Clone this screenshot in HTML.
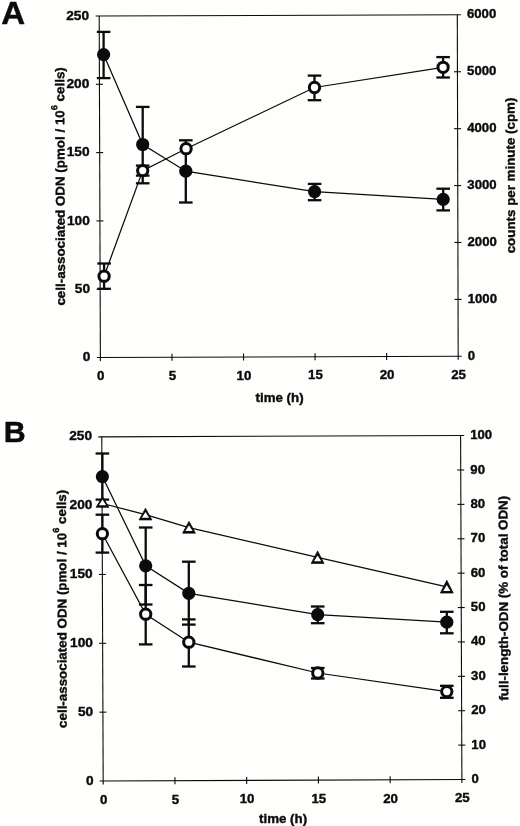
<!DOCTYPE html>
<html lang="en"><head><meta charset="utf-8"><title>Figure</title>
<style>html,body{margin:0;padding:0;background:#fefefc}svg{display:block;will-change:transform}text{font-family:"Liberation Sans",Arial,sans-serif;font-weight:bold;fill:#0b0b0b;stroke:#0b0b0b;stroke-width:0.4px;stroke-linejoin:round}</style>
</head><body>
<svg width="520" height="826" viewBox="0 0 520 826" font-size="13.3">
<rect width="520" height="826" fill="#fefefc"/>
<g id="panelA">
<line x1="95.70" y1="16.04" x2="460.80" y2="14.81" stroke="#0b0b0b" stroke-width="1.1" />
<line x1="96.90" y1="357.50" x2="461.70" y2="356.30" stroke="#0b0b0b" stroke-width="1.1" />
<line x1="99.20" y1="16.00" x2="100.40" y2="361.00" stroke="#0b0b0b" stroke-width="1.1" />
<line x1="457.30" y1="14.85" x2="458.20" y2="359.80" stroke="#0b0b0b" stroke-width="1.1" />
<text x="90.30" y="361.30" text-anchor="end" font-size="13.7">0</text>
<line x1="96.66" y1="289.20" x2="103.66" y2="289.20" stroke="#0b0b0b" stroke-width="1.1" />
<text x="90.06" y="293.00" text-anchor="end" font-size="13.7">50</text>
<line x1="96.42" y1="220.90" x2="103.42" y2="220.90" stroke="#0b0b0b" stroke-width="1.1" />
<text x="89.82" y="224.70" text-anchor="end" font-size="13.7">100</text>
<line x1="96.18" y1="152.60" x2="103.18" y2="152.60" stroke="#0b0b0b" stroke-width="1.1" />
<text x="89.58" y="156.40" text-anchor="end" font-size="13.7">150</text>
<line x1="95.94" y1="84.30" x2="102.94" y2="84.30" stroke="#0b0b0b" stroke-width="1.1" />
<text x="89.34" y="88.10" text-anchor="end" font-size="13.7">200</text>
<text x="89.10" y="19.80" text-anchor="end" font-size="13.7">250</text>
<text transform="translate(467.80,359.55) scale(0.962,1)" font-size="13.7">0</text>
<line x1="454.55" y1="299.39" x2="461.55" y2="299.39" stroke="#0b0b0b" stroke-width="1.1" />
<text transform="translate(467.65,302.64) scale(0.962,1)" font-size="13.7">1000</text>
<line x1="454.40" y1="242.48" x2="461.40" y2="242.48" stroke="#0b0b0b" stroke-width="1.1" />
<text transform="translate(467.50,245.73) scale(0.962,1)" font-size="13.7">2000</text>
<line x1="454.25" y1="185.58" x2="461.25" y2="185.58" stroke="#0b0b0b" stroke-width="1.1" />
<text transform="translate(467.35,188.83) scale(0.962,1)" font-size="13.7">3000</text>
<line x1="454.10" y1="128.67" x2="461.10" y2="128.67" stroke="#0b0b0b" stroke-width="1.1" />
<text transform="translate(467.20,131.92) scale(0.962,1)" font-size="13.7">4000</text>
<line x1="453.95" y1="71.76" x2="460.95" y2="71.76" stroke="#0b0b0b" stroke-width="1.1" />
<text transform="translate(467.05,75.01) scale(0.962,1)" font-size="13.7">5000</text>
<text transform="translate(466.90,18.10) scale(0.962,1)" font-size="13.7">6000</text>
<text x="100.80" y="380.00" text-anchor="middle">0</text>
<line x1="171.96" y1="353.76" x2="171.96" y2="360.76" stroke="#0b0b0b" stroke-width="1.1" />
<text x="172.36" y="379.76" text-anchor="middle">5</text>
<line x1="243.52" y1="353.52" x2="243.52" y2="360.52" stroke="#0b0b0b" stroke-width="1.1" />
<text x="243.92" y="379.52" text-anchor="middle">10</text>
<line x1="315.08" y1="353.28" x2="315.08" y2="360.28" stroke="#0b0b0b" stroke-width="1.1" />
<text x="315.48" y="379.28" text-anchor="middle">15</text>
<line x1="386.64" y1="353.04" x2="386.64" y2="360.04" stroke="#0b0b0b" stroke-width="1.1" />
<text x="387.04" y="379.04" text-anchor="middle">20</text>
<text x="458.60" y="378.80" text-anchor="middle">25</text>
<text transform="translate(1.3,23.9) scale(1.035,1)" font-size="32" stroke-width="0.9">A</text>
<text transform="translate(65.0,305.6) rotate(-90.2) scale(1,0.96)" textLength="238.4" lengthAdjust="spacingAndGlyphs">cell-associated ODN (pmol / 10<tspan font-size="9.2" dy="-7.4">6</tspan><tspan dy="7.4"> cells)</tspan></text>
<text transform="translate(515.1,253.3) rotate(-90.2) scale(1,0.96)" textLength="155.7" lengthAdjust="spacingAndGlyphs">counts per minute (cpm)</text>
<text x="279.6" y="402.3" text-anchor="middle">time (h)</text>
<polyline points="103.60,54.60 142.70,144.50 185.80,171.20 314.60,191.70 443.20,199.40" fill="none" stroke="#0b0b0b" stroke-width="1.25"/>
<line x1="103.60" y1="31.90" x2="103.60" y2="78.10" stroke="#0b0b0b" stroke-width="2.3" />
<line x1="96.80" y1="31.90" x2="110.40" y2="31.90" stroke="#0b0b0b" stroke-width="2.3" />
<line x1="96.80" y1="78.10" x2="110.40" y2="78.10" stroke="#0b0b0b" stroke-width="2.3" />
<line x1="142.70" y1="106.90" x2="142.70" y2="183.30" stroke="#0b0b0b" stroke-width="2.3" />
<line x1="135.90" y1="106.90" x2="149.50" y2="106.90" stroke="#0b0b0b" stroke-width="2.3" />
<line x1="135.90" y1="183.30" x2="149.50" y2="183.30" stroke="#0b0b0b" stroke-width="2.3" />
<line x1="185.80" y1="140.30" x2="185.80" y2="202.50" stroke="#0b0b0b" stroke-width="2.3" />
<line x1="179.00" y1="140.30" x2="192.60" y2="140.30" stroke="#0b0b0b" stroke-width="2.3" />
<line x1="179.00" y1="202.50" x2="192.60" y2="202.50" stroke="#0b0b0b" stroke-width="2.3" />
<line x1="314.60" y1="183.90" x2="314.60" y2="200.20" stroke="#0b0b0b" stroke-width="2.3" />
<line x1="307.80" y1="183.90" x2="321.40" y2="183.90" stroke="#0b0b0b" stroke-width="2.3" />
<line x1="307.80" y1="200.20" x2="321.40" y2="200.20" stroke="#0b0b0b" stroke-width="2.3" />
<line x1="443.20" y1="188.70" x2="443.20" y2="210.40" stroke="#0b0b0b" stroke-width="2.3" />
<line x1="436.40" y1="188.70" x2="450.00" y2="188.70" stroke="#0b0b0b" stroke-width="2.3" />
<line x1="436.40" y1="210.40" x2="450.00" y2="210.40" stroke="#0b0b0b" stroke-width="2.3" />
<circle cx="103.60" cy="54.60" r="6.6" fill="#0b0b0b"/>
<circle cx="142.70" cy="144.50" r="6.6" fill="#0b0b0b"/>
<circle cx="185.80" cy="171.20" r="6.6" fill="#0b0b0b"/>
<circle cx="314.60" cy="191.70" r="6.6" fill="#0b0b0b"/>
<circle cx="443.20" cy="199.40" r="6.6" fill="#0b0b0b"/>
<polyline points="104.10,276.20 142.70,170.60 186.10,148.70 314.50,87.50 443.10,67.30" fill="none" stroke="#0b0b0b" stroke-width="1.25"/>
<line x1="104.10" y1="263.50" x2="104.10" y2="288.80" stroke="#0b0b0b" stroke-width="2.3" />
<line x1="97.30" y1="263.50" x2="110.90" y2="263.50" stroke="#0b0b0b" stroke-width="2.3" />
<line x1="97.30" y1="288.80" x2="110.90" y2="288.80" stroke="#0b0b0b" stroke-width="2.3" />
<line x1="142.70" y1="165.60" x2="142.70" y2="175.60" stroke="#0b0b0b" stroke-width="2.3" />
<line x1="135.90" y1="165.60" x2="149.50" y2="165.60" stroke="#0b0b0b" stroke-width="2.3" />
<line x1="135.90" y1="175.60" x2="149.50" y2="175.60" stroke="#0b0b0b" stroke-width="2.3" />
<line x1="314.50" y1="75.60" x2="314.50" y2="100.20" stroke="#0b0b0b" stroke-width="2.3" />
<line x1="307.70" y1="75.60" x2="321.30" y2="75.60" stroke="#0b0b0b" stroke-width="2.3" />
<line x1="307.70" y1="100.20" x2="321.30" y2="100.20" stroke="#0b0b0b" stroke-width="2.3" />
<line x1="443.10" y1="57.10" x2="443.10" y2="77.50" stroke="#0b0b0b" stroke-width="2.3" />
<line x1="436.30" y1="57.10" x2="449.90" y2="57.10" stroke="#0b0b0b" stroke-width="2.3" />
<line x1="436.30" y1="77.50" x2="449.90" y2="77.50" stroke="#0b0b0b" stroke-width="2.3" />
<circle cx="104.10" cy="276.20" r="5.15" fill="#fff" stroke="#0b0b0b" stroke-width="3.0"/>
<circle cx="142.70" cy="170.60" r="5.15" fill="#fff" stroke="#0b0b0b" stroke-width="3.0"/>
<circle cx="186.10" cy="148.70" r="5.15" fill="#fff" stroke="#0b0b0b" stroke-width="3.0"/>
<circle cx="314.50" cy="87.50" r="5.15" fill="#fff" stroke="#0b0b0b" stroke-width="3.0"/>
<circle cx="443.10" cy="67.30" r="5.15" fill="#fff" stroke="#0b0b0b" stroke-width="3.0"/>
</g>
<g id="panelB">
<line x1="98.30" y1="436.84" x2="464.10" y2="435.56" stroke="#0b0b0b" stroke-width="1.1" />
<line x1="99.70" y1="781.00" x2="465.40" y2="779.50" stroke="#0b0b0b" stroke-width="1.1" />
<line x1="101.80" y1="436.80" x2="103.20" y2="784.50" stroke="#0b0b0b" stroke-width="1.1" />
<line x1="460.60" y1="435.60" x2="461.90" y2="783.00" stroke="#0b0b0b" stroke-width="1.1" />
<text x="93.50" y="784.60" text-anchor="end" font-size="13.7">0</text>
<line x1="99.42" y1="712.16" x2="106.42" y2="712.16" stroke="#0b0b0b" stroke-width="1.1" />
<text x="93.22" y="715.76" text-anchor="end" font-size="13.7">50</text>
<line x1="99.14" y1="643.32" x2="106.14" y2="643.32" stroke="#0b0b0b" stroke-width="1.1" />
<text x="92.94" y="646.92" text-anchor="end" font-size="13.7">100</text>
<line x1="98.86" y1="574.48" x2="105.86" y2="574.48" stroke="#0b0b0b" stroke-width="1.1" />
<text x="92.66" y="578.08" text-anchor="end" font-size="13.7">150</text>
<line x1="98.58" y1="505.64" x2="105.58" y2="505.64" stroke="#0b0b0b" stroke-width="1.1" />
<text x="92.38" y="509.24" text-anchor="end" font-size="13.7">200</text>
<text x="92.10" y="440.40" text-anchor="end" font-size="13.7">250</text>
<text transform="translate(471.50,783.05) scale(0.962,1)" font-size="13.7">0</text>
<line x1="458.27" y1="745.11" x2="465.27" y2="745.11" stroke="#0b0b0b" stroke-width="1.1" />
<text transform="translate(471.37,748.66) scale(0.962,1)" font-size="13.7">10</text>
<line x1="458.14" y1="710.72" x2="465.14" y2="710.72" stroke="#0b0b0b" stroke-width="1.1" />
<text transform="translate(471.24,714.27) scale(0.962,1)" font-size="13.7">20</text>
<line x1="458.01" y1="676.33" x2="465.01" y2="676.33" stroke="#0b0b0b" stroke-width="1.1" />
<text transform="translate(471.11,679.88) scale(0.962,1)" font-size="13.7">30</text>
<line x1="457.88" y1="641.94" x2="464.88" y2="641.94" stroke="#0b0b0b" stroke-width="1.1" />
<text transform="translate(470.98,645.49) scale(0.962,1)" font-size="13.7">40</text>
<line x1="457.75" y1="607.55" x2="464.75" y2="607.55" stroke="#0b0b0b" stroke-width="1.1" />
<text transform="translate(470.85,611.10) scale(0.962,1)" font-size="13.7">50</text>
<line x1="457.62" y1="573.16" x2="464.62" y2="573.16" stroke="#0b0b0b" stroke-width="1.1" />
<text transform="translate(470.72,576.71) scale(0.962,1)" font-size="13.7">60</text>
<line x1="457.49" y1="538.77" x2="464.49" y2="538.77" stroke="#0b0b0b" stroke-width="1.1" />
<text transform="translate(470.59,542.32) scale(0.962,1)" font-size="13.7">70</text>
<line x1="457.36" y1="504.38" x2="464.36" y2="504.38" stroke="#0b0b0b" stroke-width="1.1" />
<text transform="translate(470.46,507.93) scale(0.962,1)" font-size="13.7">80</text>
<line x1="457.23" y1="469.99" x2="464.23" y2="469.99" stroke="#0b0b0b" stroke-width="1.1" />
<text transform="translate(470.33,473.54) scale(0.962,1)" font-size="13.7">90</text>
<text transform="translate(470.20,439.15) scale(0.962,1)" font-size="13.7">100</text>
<text x="103.60" y="803.90" text-anchor="middle">0</text>
<line x1="174.94" y1="777.20" x2="174.94" y2="784.20" stroke="#0b0b0b" stroke-width="1.1" />
<text x="175.34" y="803.60" text-anchor="middle">5</text>
<line x1="246.68" y1="776.90" x2="246.68" y2="783.90" stroke="#0b0b0b" stroke-width="1.1" />
<text x="247.08" y="803.30" text-anchor="middle">10</text>
<line x1="318.42" y1="776.60" x2="318.42" y2="783.60" stroke="#0b0b0b" stroke-width="1.1" />
<text x="318.82" y="803.00" text-anchor="middle">15</text>
<line x1="390.16" y1="776.30" x2="390.16" y2="783.30" stroke="#0b0b0b" stroke-width="1.1" />
<text x="390.56" y="802.70" text-anchor="middle">20</text>
<text x="462.30" y="802.40" text-anchor="middle">25</text>
<text x="3.7" y="442.1" font-size="30.4" stroke-width="0.9">B</text>
<text transform="translate(66.8,727.9) rotate(-90.2) scale(1,0.96)" textLength="238.1" lengthAdjust="spacingAndGlyphs">cell-associated ODN (pmol / 10<tspan font-size="9.2" dy="-7.4">6</tspan><tspan dy="7.4"> cells)</tspan></text>
<text transform="translate(508.2,700.6) rotate(-90.2) scale(1,0.96)" textLength="204.8" lengthAdjust="spacingAndGlyphs">full-length-ODN (% of total ODN)</text>
<text x="283.1" y="822.7" text-anchor="middle">time (h)</text>
<polyline points="102.40,476.60 145.70,565.80 188.80,593.30 317.70,614.70 446.80,622.20" fill="none" stroke="#0b0b0b" stroke-width="1.25"/>
<line x1="102.40" y1="453.50" x2="102.40" y2="499.60" stroke="#0b0b0b" stroke-width="2.3" />
<line x1="95.60" y1="453.50" x2="109.20" y2="453.50" stroke="#0b0b0b" stroke-width="2.3" />
<line x1="95.60" y1="499.60" x2="109.20" y2="499.60" stroke="#0b0b0b" stroke-width="2.3" />
<line x1="145.70" y1="527.50" x2="145.70" y2="604.50" stroke="#0b0b0b" stroke-width="2.3" />
<line x1="138.90" y1="527.50" x2="152.50" y2="527.50" stroke="#0b0b0b" stroke-width="2.3" />
<line x1="138.90" y1="604.50" x2="152.50" y2="604.50" stroke="#0b0b0b" stroke-width="2.3" />
<line x1="188.80" y1="561.70" x2="188.80" y2="624.60" stroke="#0b0b0b" stroke-width="2.3" />
<line x1="182.00" y1="561.70" x2="195.60" y2="561.70" stroke="#0b0b0b" stroke-width="2.3" />
<line x1="182.00" y1="624.60" x2="195.60" y2="624.60" stroke="#0b0b0b" stroke-width="2.3" />
<line x1="317.70" y1="606.50" x2="317.70" y2="623.20" stroke="#0b0b0b" stroke-width="2.3" />
<line x1="310.90" y1="606.50" x2="324.50" y2="606.50" stroke="#0b0b0b" stroke-width="2.3" />
<line x1="310.90" y1="623.20" x2="324.50" y2="623.20" stroke="#0b0b0b" stroke-width="2.3" />
<line x1="446.80" y1="611.80" x2="446.80" y2="633.30" stroke="#0b0b0b" stroke-width="2.3" />
<line x1="440.00" y1="611.80" x2="453.60" y2="611.80" stroke="#0b0b0b" stroke-width="2.3" />
<line x1="440.00" y1="633.30" x2="453.60" y2="633.30" stroke="#0b0b0b" stroke-width="2.3" />
<circle cx="102.40" cy="476.60" r="6.6" fill="#0b0b0b"/>
<circle cx="145.70" cy="565.80" r="6.6" fill="#0b0b0b"/>
<circle cx="188.80" cy="593.30" r="6.6" fill="#0b0b0b"/>
<circle cx="317.70" cy="614.70" r="6.6" fill="#0b0b0b"/>
<circle cx="446.80" cy="622.20" r="6.6" fill="#0b0b0b"/>
<polyline points="102.40,533.70 145.70,614.20 188.80,642.20 317.80,673.00 446.80,691.60" fill="none" stroke="#0b0b0b" stroke-width="1.25"/>
<line x1="102.40" y1="514.70" x2="102.40" y2="552.60" stroke="#0b0b0b" stroke-width="2.3" />
<line x1="95.60" y1="514.70" x2="109.20" y2="514.70" stroke="#0b0b0b" stroke-width="2.3" />
<line x1="95.60" y1="552.60" x2="109.20" y2="552.60" stroke="#0b0b0b" stroke-width="2.3" />
<line x1="145.70" y1="585.00" x2="145.70" y2="644.40" stroke="#0b0b0b" stroke-width="2.3" />
<line x1="138.90" y1="585.00" x2="152.50" y2="585.00" stroke="#0b0b0b" stroke-width="2.3" />
<line x1="138.90" y1="644.40" x2="152.50" y2="644.40" stroke="#0b0b0b" stroke-width="2.3" />
<line x1="188.80" y1="619.40" x2="188.80" y2="666.50" stroke="#0b0b0b" stroke-width="2.3" />
<line x1="182.00" y1="619.40" x2="195.60" y2="619.40" stroke="#0b0b0b" stroke-width="2.3" />
<line x1="182.00" y1="666.50" x2="195.60" y2="666.50" stroke="#0b0b0b" stroke-width="2.3" />
<line x1="317.80" y1="668.00" x2="317.80" y2="678.50" stroke="#0b0b0b" stroke-width="2.3" />
<line x1="311.00" y1="668.00" x2="324.60" y2="668.00" stroke="#0b0b0b" stroke-width="2.3" />
<line x1="311.00" y1="678.50" x2="324.60" y2="678.50" stroke="#0b0b0b" stroke-width="2.3" />
<line x1="446.80" y1="685.80" x2="446.80" y2="697.80" stroke="#0b0b0b" stroke-width="2.3" />
<line x1="440.00" y1="685.80" x2="453.60" y2="685.80" stroke="#0b0b0b" stroke-width="2.3" />
<line x1="440.00" y1="697.80" x2="453.60" y2="697.80" stroke="#0b0b0b" stroke-width="2.3" />
<circle cx="102.40" cy="533.70" r="5.15" fill="#fff" stroke="#0b0b0b" stroke-width="3.0"/>
<circle cx="145.70" cy="614.20" r="5.15" fill="#fff" stroke="#0b0b0b" stroke-width="3.0"/>
<circle cx="188.80" cy="642.20" r="5.15" fill="#fff" stroke="#0b0b0b" stroke-width="3.0"/>
<circle cx="317.80" cy="673.00" r="5.15" fill="#fff" stroke="#0b0b0b" stroke-width="3.0"/>
<circle cx="446.80" cy="691.60" r="5.15" fill="#fff" stroke="#0b0b0b" stroke-width="3.0"/>
<polyline points="102.50,503.50 145.50,514.60 189.00,527.70 317.60,557.30 446.80,586.80" fill="none" stroke="#0b0b0b" stroke-width="1.25"/>
<polygon points="102.50,496.50 96.05,507.35 108.95,507.35" fill="#0b0b0b" stroke="#0b0b0b" stroke-width="0.7" stroke-linejoin="round"/>
<polygon points="102.50,499.40 98.90,505.20 106.10,505.20" fill="#fff"/>
<polygon points="145.50,508.20 139.05,519.95 151.95,519.95" fill="#0b0b0b" stroke="#0b0b0b" stroke-width="0.7" stroke-linejoin="round"/>
<polygon points="145.50,512.00 141.90,517.80 149.10,517.80" fill="#fff"/>
<polygon points="189.00,521.30 182.55,533.15 195.45,533.15" fill="#0b0b0b" stroke="#0b0b0b" stroke-width="0.7" stroke-linejoin="round"/>
<polygon points="189.00,525.20 185.40,531.00 192.60,531.00" fill="#fff"/>
<polygon points="317.60,550.90 311.15,563.45 324.05,563.45" fill="#0b0b0b" stroke="#0b0b0b" stroke-width="0.7" stroke-linejoin="round"/>
<polygon points="317.60,555.50 314.00,561.30 321.20,561.30" fill="#fff"/>
<polygon points="446.80,580.30 440.35,593.05 453.25,593.05" fill="#0b0b0b" stroke="#0b0b0b" stroke-width="0.7" stroke-linejoin="round"/>
<polygon points="446.80,585.10 443.20,590.90 450.40,590.90" fill="#fff"/>
</g>
</svg></body></html>
